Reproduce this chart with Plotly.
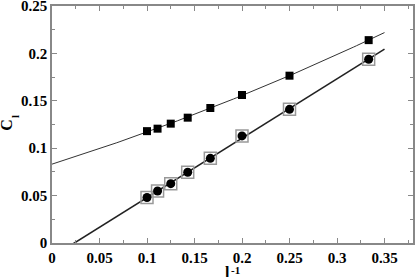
import numpy as np
import plotly.graph_objects as go

inv_l = [1/10, 1/9, 1/8, 1/7, 1/6, 1/5, 1/4, 1/3]
c_sq = [0.118, 0.1206, 0.1259, 0.1322, 0.1424, 0.1561, 0.1765, 0.214]
c_circ = [0.048, 0.0549, 0.0626, 0.0746, 0.0893, 0.113, 0.141, 0.1938]

fit_x_range = [0.0, 0.35]
xticks = [0, 0.05, 0.1, 0.15, 0.2, 0.25, 0.3, 0.35]
yticks = [0, 0.05, 0.1, 0.15, 0.2, 0.25]

# fitted curves derived from the data
xs = np.linspace(fit_x_range[0], fit_x_range[1], 120)
p_sq = np.polyfit(inv_l, c_sq, 2)
p_circ = np.polyfit(inv_l, c_circ, 1)

fig = go.Figure()
fig.add_trace(go.Scatter(x=xs, y=np.polyval(p_sq, xs), mode="lines",
                         line=dict(color="#333", width=1), showlegend=False))
fig.add_trace(go.Scatter(x=xs, y=np.polyval(p_circ, xs), mode="lines",
                         line=dict(color="#222", width=1.6), showlegend=False))
fig.add_trace(go.Scatter(x=inv_l, y=c_sq, mode="markers",
                         marker=dict(symbol="square", size=8, color="black"),
                         showlegend=False))
fig.add_trace(go.Scatter(x=inv_l, y=c_circ, mode="markers",
                         marker=dict(symbol="square-open", size=12, color="#999",
                                     line=dict(width=1.5)),
                         showlegend=False))
fig.add_trace(go.Scatter(x=inv_l, y=c_circ, mode="markers",
                         marker=dict(symbol="circle", size=9, color="black"),
                         showlegend=False))

FAM = "Liberation Serif"
font = dict(family=FAM, size=15, color="black")
tfont = dict(family=FAM, size=16, color="black")
sfont = dict(family=FAM, size=11, color="black")
axcommon = dict(showline=True, linecolor="#888", linewidth=1.5, mirror=True,
                ticks="inside", ticklen=5, tickcolor="#888", tickwidth=1,
                showgrid=False, zeroline=False, tickfont=font,
                ticklabeloverflow="allow", automargin=False)
minor = dict(ticks="inside", ticklen=3, dtick=0.025, tick0=0, tickcolor="#888", showgrid=False)
fig.update_xaxes(range=[0, 0.38], tickvals=xticks, ticktext=[f"<b>{v:g}</b>" for v in xticks],
                 minor=minor, **axcommon)
fig.update_yaxes(range=[0, 0.25], tickvals=yticks, ticktext=[f"<b>{v:g}</b>" for v in yticks],
                 minor=minor, **axcommon)
# mirrored tick axes on top/right
fig.update_layout(
    xaxis2=dict(overlaying="x", side="top", range=[0, 0.38], tickvals=xticks,
                showticklabels=False, ticks="inside", ticklen=5, tickcolor="#888",
                minor=minor, showgrid=False, zeroline=False, showline=False, automargin=False),
    yaxis2=dict(overlaying="y", side="right", range=[0, 0.25], tickvals=yticks,
                showticklabels=False, ticks="inside", ticklen=5, tickcolor="#888",
                minor=minor, showgrid=False, zeroline=False, showline=False, automargin=False),
)
fig.add_trace(go.Scatter(x=[None], y=[None], xaxis="x2", yaxis="y2", showlegend=False, hoverinfo="skip"))
# x title: l^-1
fig.add_annotation(text="<b>l</b>", xref="paper", yref="paper", x=0.485, y=-0.165,
                   xanchor="center", yanchor="bottom", showarrow=False, font=tfont, borderpad=0)
fig.add_annotation(text="<b>-1</b>", xref="paper", yref="paper", x=0.508, y=-0.112,
                   xanchor="center", yanchor="middle", showarrow=False, font=sfont, borderpad=0)
# y title: C_l (rotated)
fig.add_annotation(text="<b>C</b>", xref="paper", yref="paper", x=-0.125, y=0.498,
                   xanchor="center", yanchor="middle", showarrow=False, font=tfont,
                   textangle=-90, borderpad=0)
fig.add_annotation(text="<b>l</b>", xref="paper", yref="paper", x=-0.103, y=0.535,
                   xanchor="center", yanchor="middle", showarrow=False, font=sfont,
                   textangle=-90, borderpad=0)
fig.update_layout(width=415, height=277, margin=dict(l=52, r=2, t=6, b=34, autoexpand=False),
                  font=dict(family=FAM, color="black"),
                  plot_bgcolor="white", paper_bgcolor="white")
fig.write_html("out.html", config={"displayModeBar": False},
               post_script="document.body.style.margin='0';document.body.style.padding='0';")
